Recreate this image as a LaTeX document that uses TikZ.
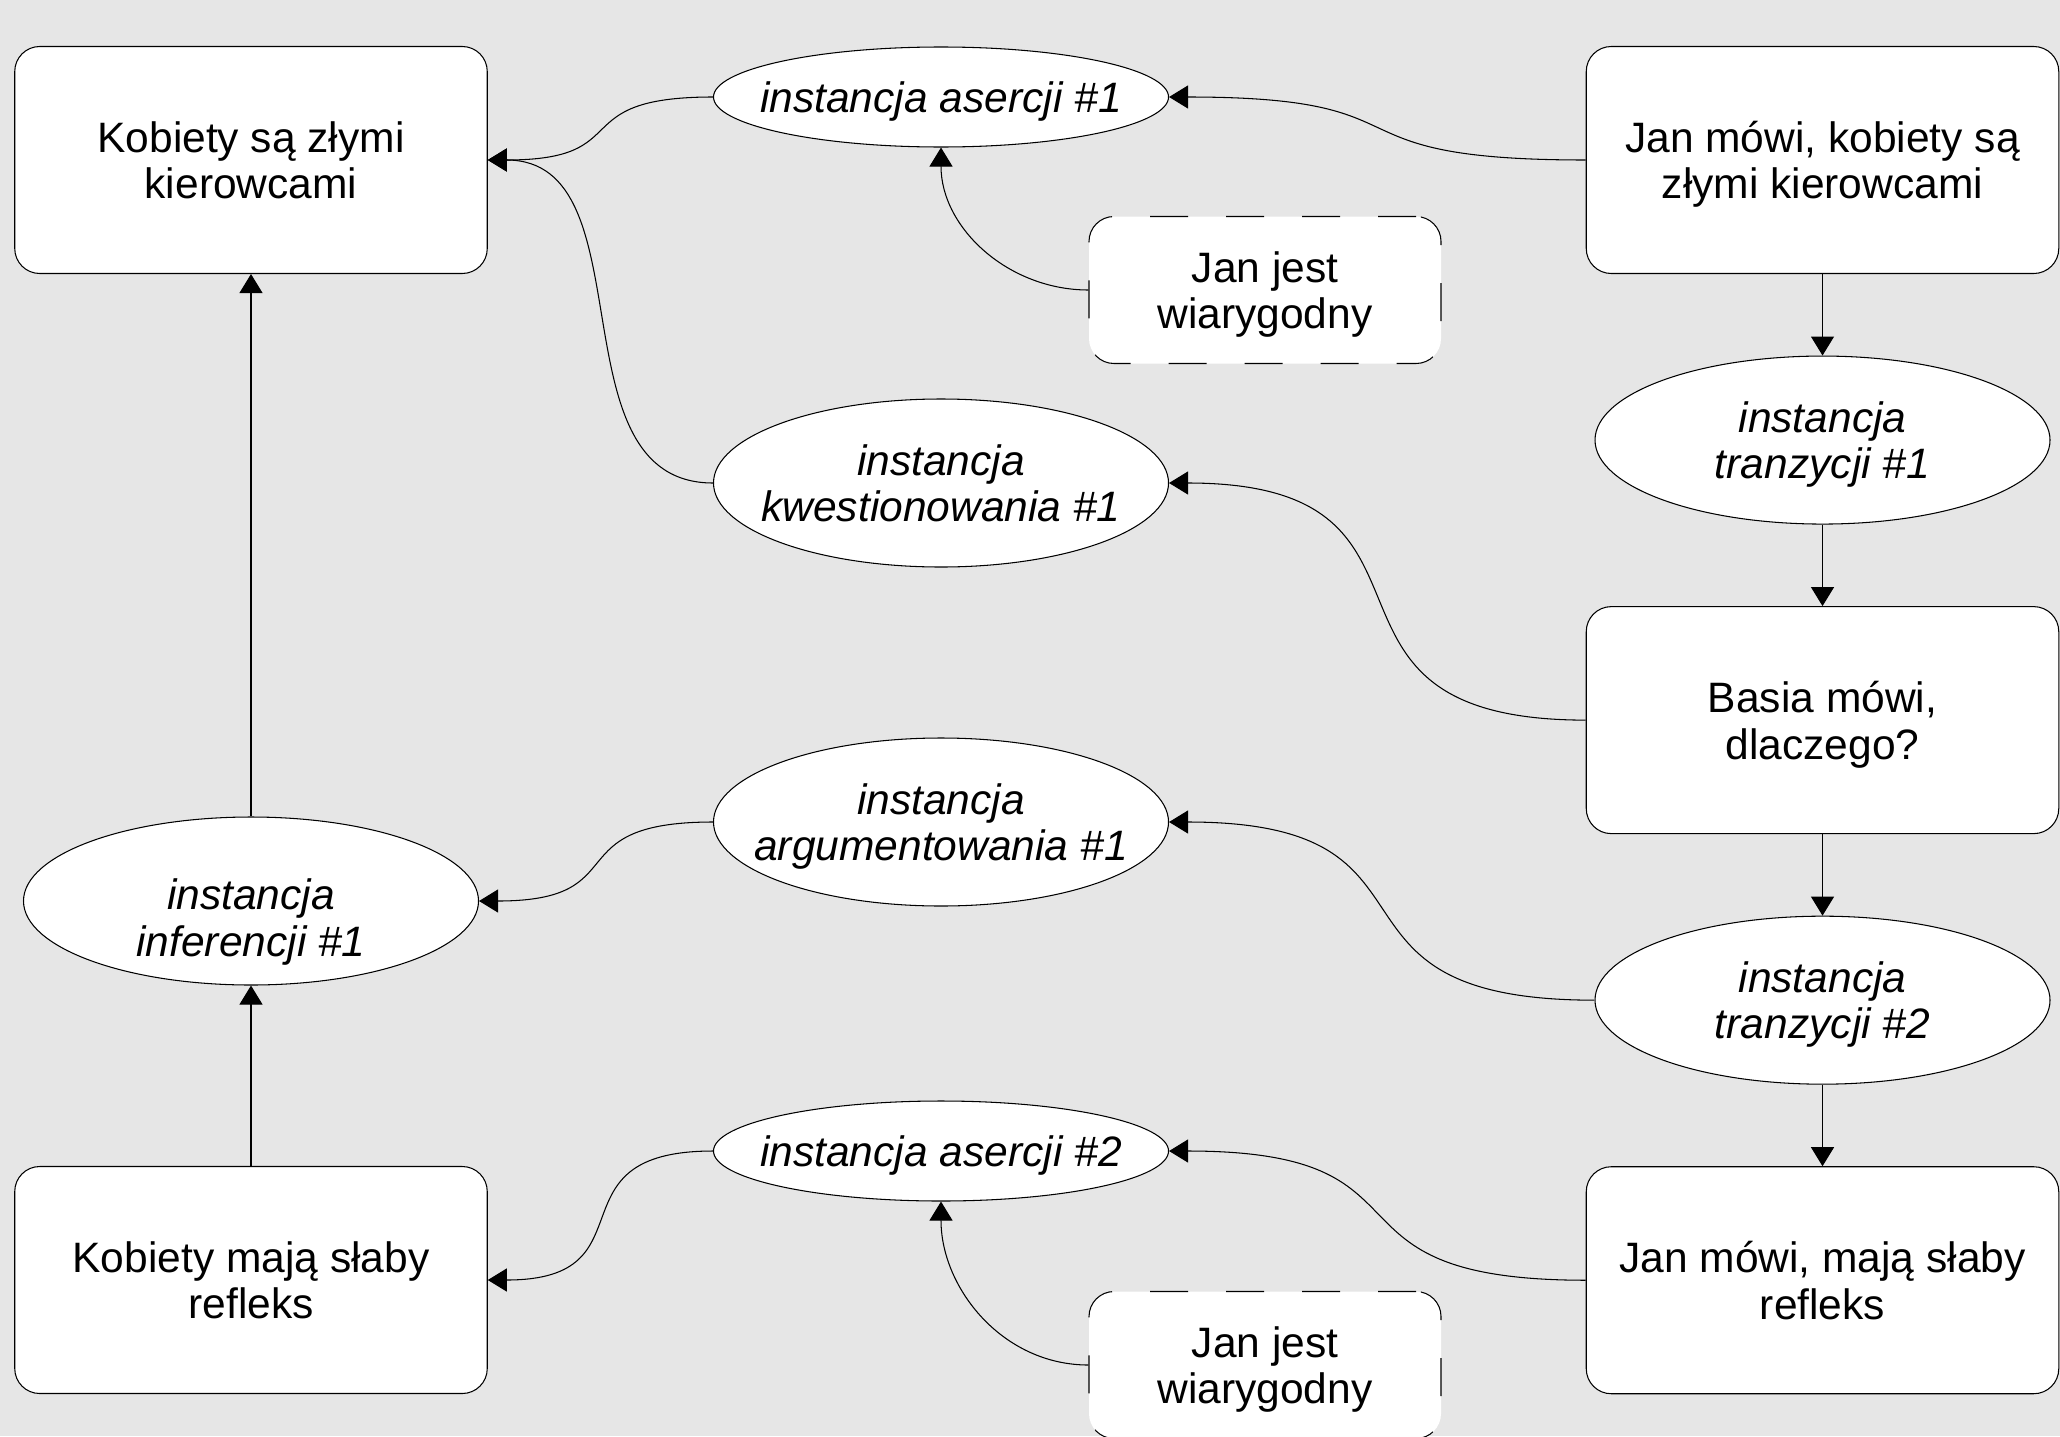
\documentclass[tikz,border=0pt]{standalone}
\usepackage{fontspec}
\setmainfont{Liberation Sans}
\usetikzlibrary{positioning}
\usetikzlibrary{arrows.meta}
\usetikzlibrary{shapes.geometric}
\definecolor{canvas}{RGB}{230,230,230}

\begin{document}
\begin{tikzpicture}[
	font=\fontsize{24.2pt}{26.5pt}\selectfont,
	claim/.style={rectangle, rounded corners=0.5cm, draw, fill=white, line width=0.6pt, minimum width=9.45cm, minimum height=4.54cm, align=center, text depth=0pt},
	premise/.style={claim, dash pattern=on 0.76cm off 0.76cm, minimum width=7.04cm, minimum height=2.94cm},
	inst/.style={ellipse, draw, fill=white, line width=0.6pt, minimum width=9.1cm, minimum height=3.36cm, inner xsep=-1.2cm, inner ysep=0pt, align=center, text depth=0pt, font=\fontsize{24.2pt}{26.5pt}\selectfont\itshape},
	flat/.style={inst, minimum height=2cm},
	support/.style={-{Triangle[length=0.38cm, width=0.46cm]}, line width=0.6pt},
	swing/.style={support, out=180, in=0, looseness=1.65},
	node distance=1.63cm,
]
	\fill[canvas] (0,0) rectangle (41.2,-28.72);
	\useasboundingbox (0,0) rectangle (41.2,-28.72);

	% left column
	\node[claim] (drivers) at (5.02,-3.2) {Kobiety są złymi\\kierowcami};
	\node[inst, text height=2.2cm] (infer) at (5.02,-18.02) {instancja\\inferencji \#1};
	\node[claim] (reflex) at (5.02,-25.6) {Kobiety mają słaby\\refleks};

	% right column
	\node[claim] (jansays) at (36.45,-3.2) {Jan mówi, kobiety są\\złymi kierowcami};
	\node[inst, below=of jansays] (trans1) {instancja\\tranzycji \#1};
	\node[claim, below=of trans1] (basia) {Basia mówi,\\dlaczego?};
	\node[inst, below=of basia] (trans2) {instancja\\tranzycji \#2};
	\node[claim, below=of trans2] (jansays2) {Jan mówi, mają słaby\\refleks};

	% middle
	\node[flat] (assert1) at (18.82,-1.94) {instancja asercji \#1};
	\node[inst] (question) at (18.82,-9.66) {instancja\\kwestionowania \#1};
	\node[inst] (argue) at (18.82,-16.44) {instancja\\argumentowania \#1};
	\node[flat] (assert2) at (18.82,-23.02) {instancja asercji \#2};
	\node[premise] (credible1) at (25.3,-5.8) {Jan jest\\wiarygodny};
	\node[premise] (credible2) at (25.3,-27.3) {Jan jest\\wiarygodny};

	\draw[support] (jansays) -- (trans1);
	\draw[support] (trans1) -- (basia);
	\draw[support] (basia) -- (trans2);
	\draw[support] (trans2) -- (jansays2);
	\draw[support] (reflex) -- (infer);
	\draw[support] (infer) -- (drivers);

	\draw[swing] (assert1.west) to (drivers.east);
	\draw[swing, looseness=1.05] (question.west) to (drivers.east);
	\draw[swing] (jansays.west) to (assert1.east);
	\draw[support] (credible1.west) to[out=180, in=-90] (assert1.south);
	\draw[swing] (basia.west) to (question.east);
	\draw[swing] (trans2.west) to (argue.east);
	\draw[swing] (argue.west) to (infer.east);
	\draw[swing] (jansays2.west) to (assert2.east);
	\draw[swing] (assert2.west) to (reflex.east);
	\draw[support] (credible2.west) to[out=180, in=-90] (assert2.south);
\end{tikzpicture}
\end{document}
